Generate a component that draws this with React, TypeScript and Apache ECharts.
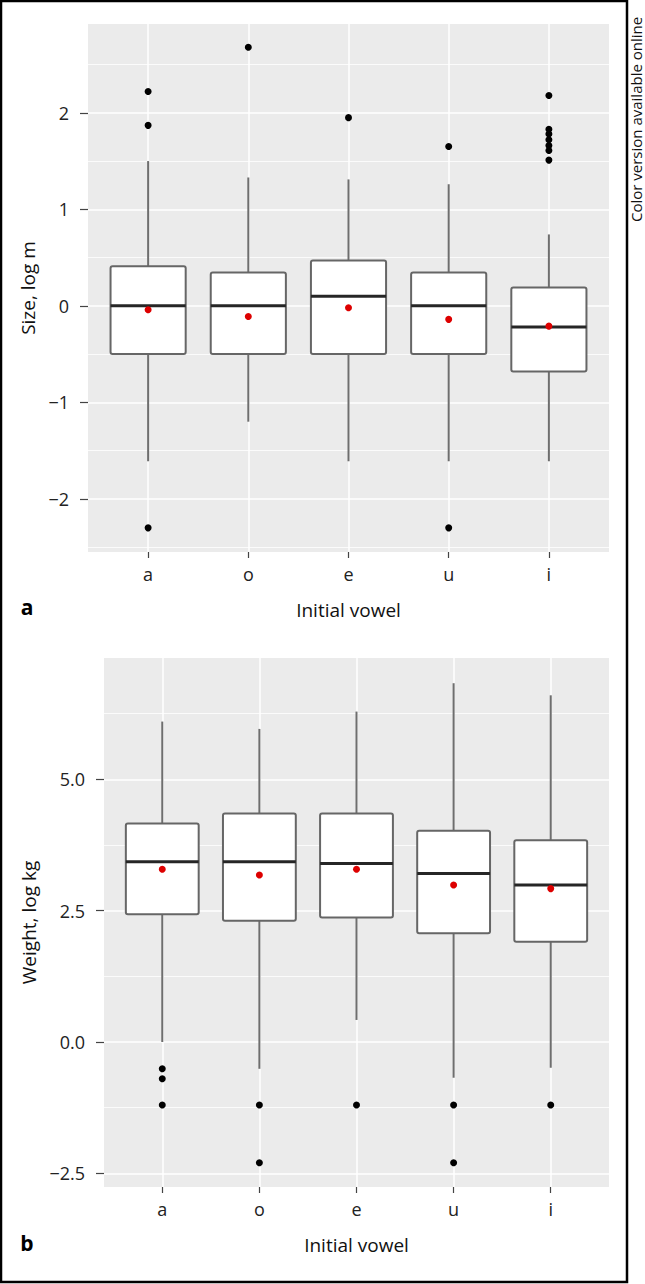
import React, { useEffect, useRef } from "react";
import * as echarts from "echarts";

const vowels = ["a", "o", "e", "u", "i"];

// Panel a: Size, log m
const sizeQ1 = [-0.5, -0.5, -0.5, -0.5, -0.68];
const sizeMedian = [0.0, 0.0, 0.1, 0.0, -0.22];
const sizeQ3 = [0.41, 0.345, 0.47, 0.345, 0.19];
const sizeLow = [-1.61, -1.2, -1.61, -1.61, -1.61];
const sizeHigh = [1.5, 1.33, 1.31, 1.26, 0.74];
const sizeMean = [-0.04, -0.11, -0.02, -0.14, -0.21];
const sizeOutliers: [string, number][] = [
  ["a", 2.22], ["a", 1.87], ["a", -2.3],
  ["o", 2.68],
  ["e", 1.95],
  ["u", 1.65], ["u", -2.3],
  ["i", 2.18], ["i", 1.83], ["i", 1.78], ["i", 1.72], ["i", 1.66], ["i", 1.61], ["i", 1.51],
];
const sizeTicks = [-2, -1, 0, 1, 2];
const sizeMinor = [-2.5, -1.5, -0.5, 0.5, 1.5, 2.5];

// Panel b: Weight, log kg
const weightQ1 = [2.43, 2.31, 2.37, 2.07, 1.91];
const weightMedian = [3.43, 3.43, 3.4, 3.21, 2.99];
const weightQ3 = [4.16, 4.35, 4.35, 4.02, 3.84];
const weightLow = [0.0, -0.51, 0.42, -0.68, -0.49];
const weightHigh = [6.1, 5.96, 6.29, 6.83, 6.6];
const weightMean = [3.29, 3.18, 3.29, 2.99, 2.92];
const weightOutliers: [string, number][] = [
  ["a", -0.51], ["a", -0.7], ["a", -1.2],
  ["o", -1.2], ["o", -2.3],
  ["e", -1.2],
  ["u", -1.2], ["u", -2.3],
  ["i", -1.2],
];
const weightTicks = [-2.5, 0, 2.5, 5];
const weightMinor = [-1.25, 1.25, 3.75, 6.25];

const FONT = "'Open Sans', 'Noto Sans', sans-serif";
const catPos = vowels.map((_, i) => i + 1);

function minusFmt(v: number, dec: number) {
  return v.toFixed(dec).replace("-", "\u2212");
}

function boxData(q1: number[], med: number[], q3: number[], lo: number[], hi: number[]) {
  return vowels.map((_, i) => [i + 1, q1[i], med[i], q3[i], lo[i], hi[i]]);
}

function renderBox(params: any, api: any) {
  const x = api.value(0);
  const w = api.size([0.75, 0])[0];
  const pQ1 = api.coord([x, api.value(1)]);
  const pMed = api.coord([x, api.value(2)]);
  const pQ3 = api.coord([x, api.value(3)]);
  const pLo = api.coord([x, api.value(4)]);
  const pHi = api.coord([x, api.value(5)]);
  const cx = pQ1[0];
  const left = cx - w / 2;
  return {
    type: "group",
    children: [
      {
        type: "line",
        shape: { x1: cx, y1: pQ3[1], x2: cx, y2: pHi[1] },
        style: { stroke: "#6e6e6e", lineWidth: 2 },
      },
      {
        type: "line",
        shape: { x1: cx, y1: pQ1[1], x2: cx, y2: pLo[1] },
        style: { stroke: "#6e6e6e", lineWidth: 2 },
      },
      {
        type: "rect",
        shape: { x: left, y: pQ3[1], width: w, height: pQ1[1] - pQ3[1], r: 2 },
        style: { fill: "#ffffff", stroke: "#666666", lineWidth: 2 },
      },
      {
        type: "line",
        shape: { x1: left, y1: pMed[1], x2: left + w, y2: pMed[1] },
        style: { stroke: "#262626", lineWidth: 3 },
      },
    ],
  };
}

export default function App() {
  const ref = useRef<HTMLDivElement>(null);

  useEffect(() => {
    if (!ref.current) return;
    const chart = echarts.init(ref.current, null, { renderer: "svg" });

    const xAxisBase = (gridIndex: number) => ({
      type: "value",
      gridIndex,
      min: 0.4,
      max: 5.6,
      position: "bottom",
      axisLine: { show: false, onZero: false },
      axisTick: {
        show: true,
        customValues: catPos,
        length: 6,
        lineStyle: { color: "#444", width: 1.2 },
      },
      axisLabel: {
        customValues: catPos,
        formatter: (v: number) => vowels[Math.round(v) - 1] || "",
        color: "#222",
        fontSize: 18,
        fontFamily: FONT,
        margin: 13,
      },
      splitLine: { show: true, lineStyle: { color: "#ffffff", width: 1.5 } },
      name: "Initial vowel",
      nameLocation: "middle",
      nameGap: 48,
      nameTextStyle: { color: "#111", fontSize: 19, fontFamily: FONT },
    });

    const yAxisBase = (gridIndex: number, min: number, max: number, ticks: number[], dec: number, name: string, nameGap: number) => ({
      type: "value",
      gridIndex,
      min,
      max,
      position: "left",
      axisLine: { show: false, onZero: false },
      axisTick: {
        show: true,
        customValues: ticks,
        length: 8,
        lineStyle: { color: "#444", width: 1.2 },
      },
      axisLabel: {
        customValues: ticks,
        formatter: (v: number) => minusFmt(v, dec),
        color: "#222",
        fontSize: 18,
        fontFamily: FONT,
        margin: 19,
      },
      splitLine: { show: true, lineStyle: { color: "#ffffff", width: 1.5 } },
      name,
      nameLocation: "middle",
      nameRotate: 90,
      nameGap,
      nameTextStyle: { color: "#111", fontSize: 19, fontFamily: FONT },
    });

    // hidden companion axis that only draws the thin minor grid lines
    const yMinorAxis = (gridIndex: number, min: number, max: number, minor: number[]) => ({
      type: "value",
      gridIndex,
      min,
      max,
      position: "left",
      axisLine: { show: false, onZero: false },
      axisTick: { show: false, customValues: minor },
      axisLabel: { show: false, customValues: minor },
      splitLine: { show: true, lineStyle: { color: "#ffffff", width: 0.8 } },
    });

    const outlierData = (arr: [string, number][]) =>
      arr.map(([c, v]) => [vowels.indexOf(c) + 1, v]);

    const meanData = (arr: number[]) => arr.map((v, i) => [i + 1, v]);

    const dotSeries = (idx: number, data: any[], color: string, z: number) => ({
      type: "scatter",
      xAxisIndex: idx,
      yAxisIndex: idx,
      data,
      symbolSize: 7,
      itemStyle: { color, opacity: 1 },
      z,
    });

    chart.setOption({
      animation: false,
      grid: [
        { left: 88, top: 24, width: 521, height: 528, show: true, backgroundColor: "#EBEBEB", borderWidth: 0 },
        { left: 104, top: 658, width: 505, height: 529, show: true, backgroundColor: "#EBEBEB", borderWidth: 0 },
      ],
      xAxis: [xAxisBase(0), xAxisBase(1)],
      yAxis: [
        yAxisBase(0, -2.55, 2.92, sizeTicks, 0, "Size, log m", 44),
        yAxisBase(1, -2.76, 7.31, weightTicks, 1, "Weight, log kg", 60),
        yMinorAxis(0, -2.55, 2.92, sizeMinor),
        yMinorAxis(1, -2.76, 7.31, weightMinor),
      ],
      series: [
        {
          type: "custom",
          xAxisIndex: 0,
          yAxisIndex: 0,
          renderItem: renderBox,
          data: boxData(sizeQ1, sizeMedian, sizeQ3, sizeLow, sizeHigh),
          encode: { x: 0, y: [1, 2, 3, 4, 5] },
          z: 2,
        },
        dotSeries(0, outlierData(sizeOutliers), "#000000", 3),
        dotSeries(0, meanData(sizeMean), "#dd0000", 4),
        {
          type: "custom",
          xAxisIndex: 1,
          yAxisIndex: 1,
          renderItem: renderBox,
          data: boxData(weightQ1, weightMedian, weightQ3, weightLow, weightHigh),
          encode: { x: 0, y: [1, 2, 3, 4, 5] },
          z: 2,
        },
        dotSeries(1, outlierData(weightOutliers), "#000000", 3),
        dotSeries(1, meanData(weightMean), "#dd0000", 4),
      ],
      graphic: [
        {
          type: "rect",
          shape: { x: 1, y: 1, width: 626, height: 1281 },
          style: { fill: "none", stroke: "#000", lineWidth: 2.5 },
          silent: true,
        },
        {
          type: "text",
          x: 27,
          y: 607,
          style: { text: "a", fontSize: 21, fontWeight: "bold", fontFamily: FONT, fill: "#000", align: "center", verticalAlign: "middle" },
        },
        {
          type: "text",
          x: 27,
          y: 1243,
          style: { text: "b", fontSize: 21, fontWeight: "bold", fontFamily: FONT, fill: "#000", align: "center", verticalAlign: "middle" },
        },
        {
          type: "text",
          x: 636,
          y: 222,
          rotation: Math.PI / 2,
          style: {
            text: "Color version available online",
            fontSize: 15,
            fontFamily: FONT,
            fill: "#111",
            align: "left",
            verticalAlign: "middle",
          },
        },
      ],
    });

    return () => chart.dispose();
  }, []);

  return (
    <div
      ref={ref}
      style={{ position: "absolute", left: 0, top: 0, width: 645, height: 1284, background: "#fff" }}
    />
  );
}
